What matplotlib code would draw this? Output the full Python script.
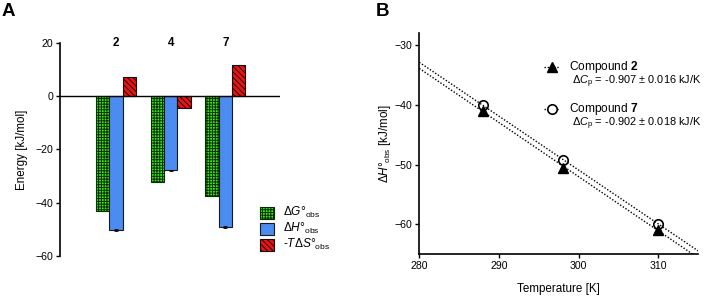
import numpy as np
import matplotlib
matplotlib.use("Agg")
import matplotlib.pyplot as plt
from matplotlib.patches import Rectangle
from matplotlib.lines import Line2D

plt.rcParams['font.family'] = ['Liberation Sans', 'DejaVu Sans']
plt.rcParams['mathtext.fontset'] = 'custom'
plt.rcParams['mathtext.rm'] = 'Liberation Sans'
plt.rcParams['mathtext.it'] = 'Liberation Sans:italic'
plt.rcParams['mathtext.bf'] = 'Liberation Sans:bold'
plt.rcParams['hatch.linewidth'] = 0.7

# ---- Panel A data ----
compounds = ['2', '4', '7']
dG = [-43.0, -32.3, -37.7]
dH = [-50.3, -27.9, -49.3]
dH_err = [0.4, 0.3, 0.4]
mTdS = [7.3, -4.4, 11.9]

# ---- Panel B data ----
temps = [288, 298, 310]
h2 = [-41.0, -50.5, -61.0]
h7 = [-40.0, -49.3, -59.9]
cp2_text = r'$\Delta C_\mathregular{p}$ = -0.907 ± 0.016 kJ/K'
cp7_text = r'$\Delta C_\mathregular{p}$ = -0.902 ± 0.018 kJ/K'

W, H = 709, 296
fig = plt.figure(figsize=(W / 100, H / 100), dpi=100)

def fx(px):
    return px / W

def fy(py):
    return 1 - py / H

fs_tick = 7.6
fs_lab = 8.4
fs_leg = 8.6
fs_cp = 7.9

green = '#33ee11'
blue = '#4a8cf0'
red = '#ee1111'
ghatch = '++++++'
rhatch = '\\\\\\\\\\\\'

# ---------- Panel A ----------
axA = fig.add_axes([fx(60), fy(255.7), fx(220), fy(43.3) - fy(255.7)])
x = np.arange(len(compounds))
w = 0.243
axA.bar(x - w, dG, width=w, color=green, edgecolor='#0a2a00', hatch=ghatch, linewidth=0.8)
axA.bar(x, dH, width=w, color=blue, edgecolor='#1a1a1a', linewidth=0.8,
        yerr=dH_err, capsize=1.5, error_kw=dict(elinewidth=0.6, capthick=0.6, ecolor='k'))
axA.bar(x + w, mTdS, width=w, color=red, edgecolor='#111111', hatch=rhatch, linewidth=0.8)
axA.axhline(0, color='k', lw=1.0)
axA.set_xlim(-1.024, 2.998)
axA.set_ylim(-60, 20)
axA.set_yticks([20, 0, -20, -40, -60])
axA.tick_params(axis='y', labelsize=fs_tick, length=3, width=1.0, direction='out', pad=2)
axA.set_xticks([])
for s in ['top', 'right', 'bottom']:
    axA.spines[s].set_visible(False)
axA.spines['left'].set_linewidth(1.2)
axA.set_ylabel('Energy [kJ/mol]', fontsize=fs_lab, labelpad=5)
for xi, c in zip(x, compounds):
    axA.text(xi, 20, c, ha='center', va='center', fontsize=fs_lab, fontweight='bold')

# legend A (manual placement)
leg_items = [
    (green, '#0a2a00', ghatch, r'$\Delta\it{G}$°$_\mathregular{obs}$'),
    (blue, '#1a1a1a', None, r'$\Delta\it{H}$°$_\mathregular{obs}$'),
    (red, '#111111', rhatch, r'-$\it{T}\Delta\it{S}$°$_\mathregular{obs}$'),
]
for i, (fc, ec, hh, lab) in enumerate(leg_items):
    top = 206.5 + i * 16
    r = Rectangle((fx(260), fy(top + 12)), fx(13.5), fy(top) - fy(top + 12),
                  transform=fig.transFigure, facecolor=fc, edgecolor=ec,
                  hatch=hh, linewidth=0.8)
    fig.add_artist(r)
    fig.text(fx(283), fy(top + 5.5), lab, fontsize=fs_leg, va='center', ha='left')

fig.text(fx(2), fy(12), 'A', fontsize=13.5, fontweight='bold', va='center', ha='left')

# ---------- Panel B ----------
axB = fig.add_axes([fx(419.3), fy(254), fx(279), fy(33.3) - fy(254)])
xl = np.array([280, 315])
dots = (0, (1, 1.3))
for h in (h2, h7):
    p = np.polyfit(temps, h, 1)
    axB.plot(xl, np.polyval(p, xl), ls=dots, color='k', lw=1.0)
axB.plot(temps, h2, ls='none', marker='^', color='k', ms=7)
axB.plot(temps, h7, ls='none', marker='o', mfc='none', mec='k', ms=6.8, mew=1.2)
axB.set_xlim(280, 315)
axB.set_ylim(-65, -28)
axB.set_xticks([280, 290, 300, 310])
axB.set_yticks([-30, -40, -50, -60])
axB.tick_params(labelsize=fs_tick, length=3, width=1.0, direction='out', pad=2)
for s in ['top', 'right']:
    axB.spines[s].set_visible(False)
for s in ['left', 'bottom']:
    axB.spines[s].set_linewidth(1.2)
axB.set_xlabel('Temperature [K]', fontsize=fs_lab, labelpad=9)
axB.set_ylabel(r'$\Delta\it{H}$°$_\mathregular{obs}$ [kJ/mol]', fontsize=fs_lab, labelpad=1)

# legend B (manual placement)
for yy, mk, fill, lab, cptxt, cpy in [(67, '^', 'k', r'Compound $\mathbf{2}$', cp2_text, 82),
                                      (109, 'o', 'white', r'Compound $\mathbf{7}$', cp7_text, 124)]:
    fig.add_artist(Line2D([fx(544), fx(560)], [fy(yy), fy(yy)], transform=fig.transFigure,
                          ls=dots, color='k', lw=1.0))
    fig.add_artist(Line2D([fx(552)], [fy(yy)], transform=fig.transFigure, ls='none',
                          marker=mk, mfc=fill, mec='k', ms=7 if mk == '^' else 6.8,
                          mew=1.2 if mk == 'o' else 1.0))
    fig.text(fx(569), fy(yy), lab, fontsize=fs_leg, va='center', ha='left')
    fig.text(fx(572), fy(cpy), cptxt, fontsize=fs_cp, va='center', ha='left')

fig.text(fx(376), fy(12), 'B', fontsize=13.5, fontweight='bold', va='center', ha='left')

fig.savefig('out.png', dpi=100)
